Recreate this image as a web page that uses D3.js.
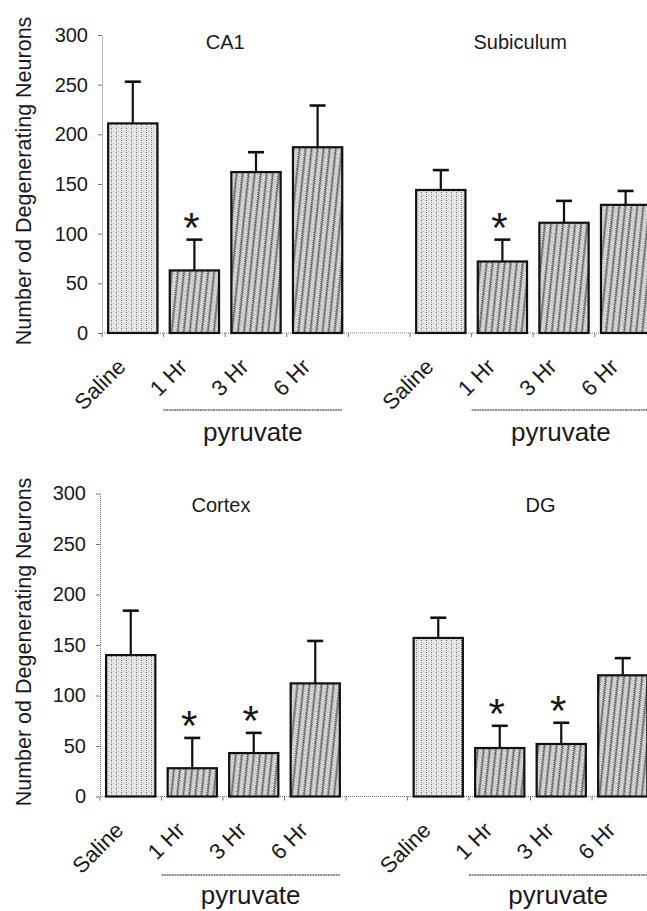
<!DOCTYPE html>
<html>
<head>
<meta charset="utf-8">
<script src="https://cdn.jsdelivr.net/npm/d3@7"></script>
<style>
  body { margin: 0; background: #fff; }
  text { font-family: "Liberation Sans", Arial, sans-serif; fill: #1a1a1a; }
</style>
</head>
<body>
<script>
// groups on the x axis, and the four brain regions
let groups = ["Saline", "1 Hr", "3 Hr", "6 Hr"];
let regions = ["CA1", "Subiculum", "Cortex", "DG"];
let yTicks = [0, 50, 100, 150, 200, 250, 300];

// mean number of degenerating neurons
let ca1Means = [211, 63, 162, 187];
let ca1Errors = [42, 31, 20, 42];
let subiculumMeans = [144, 72, 111, 129];
let subiculumErrors = [20, 22, 22, 14];
let cortexMeans = [140, 28, 43, 112];
let cortexErrors = [44, 30, 20, 42];
let dgMeans = [157, 48, 52, 120];
let dgErrors = [20, 22, 21, 17];

// * = significant vs saline
let ca1Signif = [false, true, false, false];
let subiculumSignif = [false, true, false, false];
let cortexSignif = [false, true, true, false];
let dgSignif = [false, true, true, false];

let yLabel = "Number od Degenerating Neurons";
let treatmentLabel = "pyruvate";

let width = 647, height = 911;

let svg = d3.select("body").append("svg")
    .attr("width", width)
    .attr("height", height);

// patterns for the two bar fills
let defs = svg.append("defs");
let stipple = defs.append("pattern")
    .attr("id", "stipple")
    .attr("patternUnits", "userSpaceOnUse")
    .attr("width", 5).attr("height", 4);
stipple.append("rect").attr("width", 5).attr("height", 4).attr("fill", "#e6e6e6");
stipple.append("rect").attr("x", 1).attr("y", 0).attr("width", 1).attr("height", 1).attr("fill", "#6a6a6a");
stipple.append("rect").attr("x", 1).attr("y", 2).attr("width", 1).attr("height", 1).attr("fill", "#a0a0a0");
stipple.append("rect").attr("x", 3).attr("y", 3).attr("width", 1).attr("height", 1).attr("fill", "#c0c0c0");

let hatch = defs.append("pattern")
    .attr("id", "hatch")
    .attr("patternUnits", "userSpaceOnUse")
    .attr("width", 6).attr("height", 4)
    .attr("patternTransform", "rotate(6)");
hatch.append("rect").attr("width", 6).attr("height", 4).attr("fill", "#d8d8d8");
hatch.append("rect").attr("x", 0).attr("y", 0).attr("width", 2).attr("height", 1).attr("fill", "#5e5e5e");
hatch.append("rect").attr("x", 1).attr("y", 1).attr("width", 2).attr("height", 1).attr("fill", "#707070");
hatch.append("rect").attr("x", 0).attr("y", 2).attr("width", 2).attr("height", 1).attr("fill", "#5e5e5e");
hatch.append("rect").attr("x", 1).attr("y", 3).attr("width", 2).attr("height", 1).attr("fill", "#808080");
hatch.append("rect").attr("x", 4).attr("y", 2).attr("width", 1).attr("height", 1).attr("fill", "#a8a8a8");

let means = {CA1: ca1Means, Subiculum: subiculumMeans, Cortex: cortexMeans, DG: dgMeans};
let errors = {CA1: ca1Errors, Subiculum: subiculumErrors, Cortex: cortexErrors, DG: dgErrors};
let signif = {CA1: ca1Signif, Subiculum: subiculumSignif, Cortex: cortexSignif, DG: dgSignif};

// two rows, each one long x axis holding two regions with an empty slot between
let rows = [
    {regions: ["CA1", "Subiculum"], x0: 102, step: 61.6, y0: 333, y300: 35,
     titleY: 49, titleDx: [0, -13], underlineY: 410, treatY: 441},
    {regions: ["Cortex", "DG"], x0: 100, step: 61.5, y0: 796.5, y300: 493.5,
     titleY: 512, titleDx: [-2, 10], underlineY: 875, treatY: 904}
];

rows.forEach(row => {
    let slots = [];
    row.regions.forEach((r, i) => {
        if (i > 0) slots.push("gap");
        groups.forEach(g => slots.push(r + "|" + g));
    });

    let x = d3.scaleBand()
        .domain(slots)
        .range([row.x0, row.x0 + slots.length * row.step])
        .paddingInner(0.2)
        .paddingOuter(0.1);

    let y = d3.scaleLinear()
        .domain([0, 300])
        .range([row.y0, row.y300]);

    let g = svg.append("g");

    // y axis
    let yAxis = g.append("g")
        .attr("transform", "translate(" + row.x0 + ",0)")
        .call(d3.axisLeft(y).tickValues(yTicks).tickSize(4).tickSizeOuter(0).tickPadding(10));
    yAxis.select(".domain").attr("stroke", "#777").attr("stroke-dasharray", "1,1");
    yAxis.selectAll(".tick line").attr("stroke", "#777");
    yAxis.selectAll(".tick text")
        .style("font-family", "'Liberation Sans', Arial, sans-serif")
        .style("font-size", "20px")
        .attr("fill", "#1a1a1a");

    // x axis baseline and slot ticks
    g.append("line")
        .attr("x1", row.x0).attr("x2", width)
        .attr("y1", y(0)).attr("y2", y(0))
        .attr("stroke", "#777")
        .attr("stroke-dasharray", "1,1");

    let halfGap = x.step() * x.paddingInner() / 2;
    let bounds = slots.map(s => x(s) - halfGap).concat([x(slots[slots.length - 1]) + x.bandwidth() + halfGap]);
    g.selectAll(".xtick")
        .data(bounds)
        .enter().append("line")
        .attr("x1", d => d).attr("x2", d => d)
        .attr("y1", y(0)).attr("y2", y(0) + 4)
        .attr("stroke", "#777");

    // y label
    g.append("text")
        .attr("transform", "translate(31," + ((row.y0 + row.y300) / 2 - 3) + ") rotate(-90)")
        .attr("text-anchor", "middle")
        .style("font-size", "21.5px")
        .text(yLabel);

    row.regions.forEach((region, ri) => {
        let data = groups.map((grp, i) => ({
            key: region + "|" + grp,
            group: grp,
            mean: means[region][i],
            err: errors[region][i],
            sig: signif[region][i]
        }));

        // bars
        g.selectAll(".bar-" + ri)
            .data(data)
            .enter().append("rect")
            .attr("x", d => x(d.key))
            .attr("y", d => y(d.mean))
            .attr("width", x.bandwidth())
            .attr("height", d => y(0) - y(d.mean))
            .attr("fill", d => d.group === "Saline" ? "url(#stipple)" : "url(#hatch)")
            .attr("stroke", "#111")
            .attr("stroke-width", 2.2);

        // error bars (upper only)
        g.selectAll(".err-" + ri)
            .data(data)
            .enter().append("line")
            .attr("x1", d => x(d.key) + x.bandwidth() / 2)
            .attr("x2", d => x(d.key) + x.bandwidth() / 2)
            .attr("y1", d => y(d.mean))
            .attr("y2", d => y(d.mean + d.err))
            .attr("stroke", "#111")
            .attr("stroke-width", 2.2);
        g.selectAll(".cap-" + ri)
            .data(data)
            .enter().append("line")
            .attr("x1", d => x(d.key) + x.bandwidth() / 2 - 8)
            .attr("x2", d => x(d.key) + x.bandwidth() / 2 + 8)
            .attr("y1", d => y(d.mean + d.err))
            .attr("y2", d => y(d.mean + d.err))
            .attr("stroke", "#111")
            .attr("stroke-width", 2.6);

        // asterisks
        g.selectAll(".star-" + ri)
            .data(data.filter(d => d.sig))
            .enter().append("text")
            .attr("x", d => x(d.key) + x.bandwidth() / 2 - 3)
            .attr("y", d => y(d.mean + d.err) + 2)
            .attr("text-anchor", "middle")
            .style("font-size", "42px")
            .text("*");

        // group labels
        g.selectAll(".lab-" + ri)
            .data(data)
            .enter().append("text")
            .attr("transform", d => "translate(" + (x(d.key) + x.bandwidth() / 2 - 6) + "," + (y(0) + 35) + ") rotate(-45)")
            .attr("text-anchor", "end")
            .style("font-size", "22px")
            .text(d => d.group);

        // region title
        let firstTreat = region + "|" + groups[1];
        g.append("text")
            .attr("x", x(firstTreat) + x.bandwidth() + halfGap + row.titleDx[ri])
            .attr("y", row.titleY)
            .attr("text-anchor", "middle")
            .style("font-size", "20px")
            .text(region);

        // treatment bracket
        let lastTreat = region + "|" + groups[groups.length - 1];
        let ux1 = x(firstTreat) - halfGap;
        let ux2 = x(lastTreat) + x.bandwidth();
        g.append("line")
            .attr("x1", ux1).attr("x2", ux2)
            .attr("y1", row.underlineY).attr("y2", row.underlineY)
            .attr("stroke", "#666")
            .attr("stroke-width", 1.4)
            .attr("stroke-dasharray", "2,0.6");
        g.append("text")
            .attr("x", (ux1 + ux2) / 2)
            .attr("y", row.treatY)
            .attr("text-anchor", "middle")
            .style("font-size", "26px")
            .text(treatmentLabel);
    });
});
</script>
</body>
</html>
